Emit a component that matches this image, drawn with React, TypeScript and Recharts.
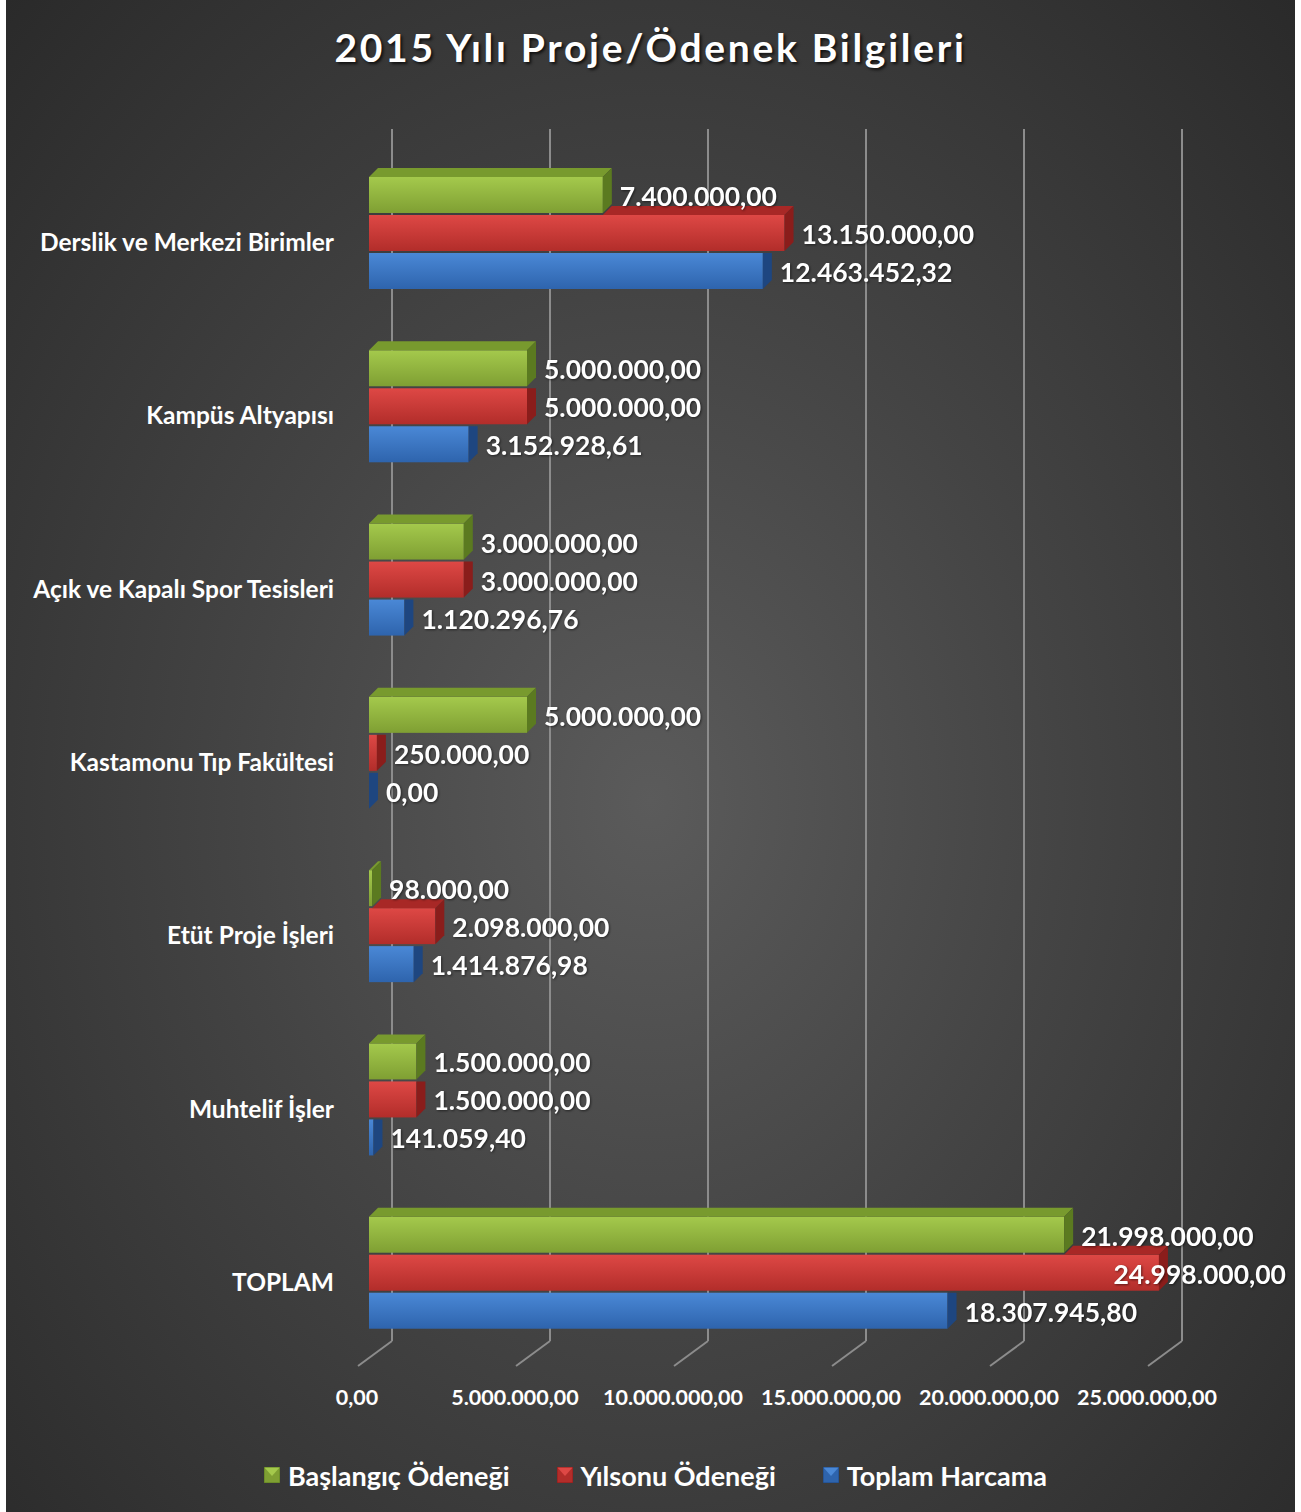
import React from "react";
import {
  BarChart,
  Bar,
  XAxis,
  YAxis,
  CartesianGrid,
  LabelList,
  Legend,
} from "recharts";

const categories = [
  "Derslik ve Merkezi Birimler",
  "Kampüs Altyapısı",
  "Açık ve Kapalı Spor Tesisleri",
  "Kastamonu Tıp Fakültesi",
  "Etüt Proje İşleri",
  "Muhtelif İşler",
  "TOPLAM",
];
const baslangic = [7400000, 5000000, 3000000, 5000000, 98000, 1500000, 21998000];
const yilsonu = [13150000, 5000000, 3000000, 250000, 2098000, 1500000, 24998000];
const harcama = [12463452.32, 3152928.61, 1120296.76, 0, 1414876.98, 141059.4, 18307945.8];
const xTicks = [0, 5000000, 10000000, 15000000, 20000000, 25000000];

const seriesKeys = ["baslangic", "yilsonu", "harcama"];
const seriesNames = ["Başlangıç Ödeneği", "Yılsonu Ödeneği", "Toplam Harcama"];

const data = categories.map((name, i) => ({
  name,
  baslangic: baslangic[i],
  yilsonu: yilsonu[i],
  harcama: harcama[i],
}));

const W = 1289;
const H = 1512;
const DEPTH = 9;
const FONT = "Lato, 'Open Sans', sans-serif";

const palette = [
  { top: "#789a2e", side: "#5b7a20", a: "#a4c94c", b: "#7f9f33" },
  { top: "#a82826", side: "#8a1d1b", a: "#de4845", b: "#b22d2a" },
  { top: "#2d5fa6", side: "#1e4680", a: "#4a88d6", b: "#2e64ad" },
];

// 12463452.32 -> "12.463.452,32"
function fmt(v: number) {
  const [int, dec] = v.toFixed(2).split(".");
  return int.replace(/\B(?=(\d{3})+(?!\d))/g, ".") + "," + dec;
}

function textWidth(s: string, size: number) {
  let w = 0;
  for (const c of s) w += c === "." || c === "," ? 0.27 * size : 0.58 * size;
  return w;
}

function Box3D(props: any) {
  const { x, y, width, height, payload, idx } = props;
  const c = palette[idx];
  const val = payload[seriesKeys[idx]];
  const x2 = x + width;
  const h = height;
  let upperX2 = -Infinity;
  if (idx > 0) {
    const up = payload[seriesKeys[idx - 1]];
    upperX2 = val > 0 ? x + (width * up) / val : up > 0 ? x + 1e6 : x;
  }
  const pts = (a: number[][]) => a.map((p) => p.join(",")).join(" ");
  const exposed = upperX2 < x2;
  const topStart = idx === 0 ? x : upperX2;
  return (
    <g>
      {width > 0 && (
        <rect x={x} y={y} width={width} height={h} fill={`url(#front${idx})`} />
      )}
      {exposed && width > 0 && (
        <polygon
          points={pts([
            [topStart, y],
            [topStart + DEPTH, y - DEPTH],
            [x2 + DEPTH, y - DEPTH],
            [x2, y],
          ])}
          fill={c.top}
        />
      )}
      <polygon
        points={pts(
          exposed
            ? [
                [x2, y],
                [x2 + DEPTH, y - DEPTH],
                [x2 + DEPTH, y + h - DEPTH],
                [x2, y + h],
              ]
            : [
                [x2, y],
                [x2 + DEPTH, y],
                [x2 + DEPTH, y + h - DEPTH],
                [x2, y + h],
              ]
        )}
        fill={c.side}
      />
    </g>
  );
}

const shapeFor = (idx: number) => (p: any) => <Box3D {...p} idx={idx} />;

function ValueLabel(props: any) {
  const { x, y, width, height, value } = props;
  const s = fmt(value);
  const size = 26.5;
  let tx = x + width + 17;
  const tw = textWidth(s, size);
  let anchor: "start" | "end" = "start";
  if (tx + tw > W - 9) {
    tx = W - 9;
    anchor = "end";
  }
  return (
    <text
      x={tx}
      y={y + height / 2 + 1}
      textAnchor={anchor}
      dominantBaseline="central"
      fill="#ffffff"
      fontFamily={FONT}
      fontWeight={700}
      fontSize={size}
      style={{ filter: "drop-shadow(1px 1px 1px rgba(0,0,0,0.5))" }}
    >
      {s}
    </text>
  );
}

function CategoryTick(props: any) {
  const { x, y, payload } = props;
  return (
    <text
      x={x}
      y={y + 9}
      textAnchor="end"
      dominantBaseline="central"
      fill="#ffffff"
      fontFamily={FONT}
      fontWeight={700}
      fontSize={24.5}
    >
      {payload.value}
    </text>
  );
}

function ValueTick(props: any) {
  const { x, y, payload } = props;
  return (
    <text
      x={x - 12}
      y={y + 38}
      textAnchor="middle"
      dominantBaseline="central"
      fill="#ffffff"
      fontFamily={FONT}
      fontWeight={700}
      fontSize={21.5}
    >
      {fmt(payload.value)}
    </text>
  );
}

function GridLine(props: any) {
  const { x1, y1, y2 } = props;
  return (
    <g key={`g-${x1}`}>
      <line x1={x1 + 23} y1={y1 - 17} x2={x1 + 23} y2={y2 - 18} stroke="#8c8c8c" strokeWidth={2} />
      <line x1={x1 + 23} y1={y2 - 18} x2={x1 - 11} y2={y2 + 7} stroke="#8c8c8c" strokeWidth={2} />
    </g>
  );
}

function LegendIcon({ idx }: { idx: number }) {
  const c = palette[idx];
  return (
    <svg width={16} height={16} style={{ marginRight: 8 }}>
      <rect x={0} y={0} width={16} height={16} fill={c.b} />
      <polygon points="0,0 16,0 8,9" fill={c.a} />
      <rect x={0} y={0} width={16} height={16} fill="none" stroke={c.side} strokeWidth={1} />
    </svg>
  );
}

function renderLegend() {
  return (
    <div
      style={{
        display: "flex",
        justifyContent: "center",
        alignItems: "center",
        height: 40,
        paddingLeft: 10,
        fontFamily: FONT,
        fontWeight: 700,
        fontSize: 27,
        color: "#ffffff",
      }}
    >
      {seriesNames.map((n, i) => (
        <span
          key={n}
          style={{ display: "flex", alignItems: "center", marginRight: i < 2 ? 47 : 0 }}
        >
          <LegendIcon idx={i} />
          {n}
        </span>
      ))}
    </div>
  );
}

export default function App() {
  return (
    <div
      style={{
        position: "absolute",
        left: 6,
        top: 0,
        width: W,
        height: H,
        background:
          "radial-gradient(ellipse farthest-corner at 50% 53%, #5b5b5b 0%, #444444 45%, #2a2a2a 100%)",
        overflow: "hidden",
      }}
    >
      <svg width={0} height={0} style={{ position: "absolute" }}>
        <defs>
          {palette.map((c, i) => (
            <linearGradient key={i} id={`front${i}`} x1="0" y1="0" x2="0" y2="1">
              <stop offset="0%" stopColor={c.a} />
              <stop offset="100%" stopColor={c.b} />
            </linearGradient>
          ))}
        </defs>
      </svg>
      <div
        style={{
          position: "absolute",
          top: 23,
          left: 0,
          width: W,
          textAlign: "center",
          fontFamily: FONT,
          fontWeight: 700,
          fontSize: 39,
          letterSpacing: 2.7,
          color: "#ffffff",
          textShadow: "2px 2px 3px rgba(0,0,0,0.7)",
          lineHeight: "48px",
        }}
      >
        2015 Yılı Proje/Ödenek Bilgileri
      </div>
      <BarChart
        width={W}
        height={H}
        data={data}
        layout="vertical"
        margin={{ top: 146, right: 136, bottom: 73, left: 0 }}
        barCategoryGap={31}
        barGap={2}
      >
        <CartesianGrid horizontal={false} vertical={GridLine} />
        <XAxis
          type="number"
          domain={[0, 25000000]}
          ticks={xTicks}
          axisLine={false}
          tickLine={false}
          tickSize={0}
          tickMargin={0}
          height={40}
          tick={ValueTick}
          interval={0}
        />
        <YAxis
          type="category"
          dataKey="name"
          width={363}
          axisLine={false}
          tickLine={false}
          tickSize={0}
          tickMargin={35}
          tick={CategoryTick}
          interval={0}
        />
        <Legend
          content={renderLegend}
          verticalAlign="bottom"
          wrapperStyle={{ top: 1455, left: 0, width: W, height: 40 }}
        />
        {seriesKeys.map((k, i) => (
          <Bar
            key={k}
            dataKey={k}
            name={seriesNames[i]}
            fill={palette[i].b}
            shape={shapeFor(i)}
            isAnimationActive={false}
          >
            <LabelList dataKey={k} content={ValueLabel} />
          </Bar>
        ))}
      </BarChart>
    </div>
  );
}
